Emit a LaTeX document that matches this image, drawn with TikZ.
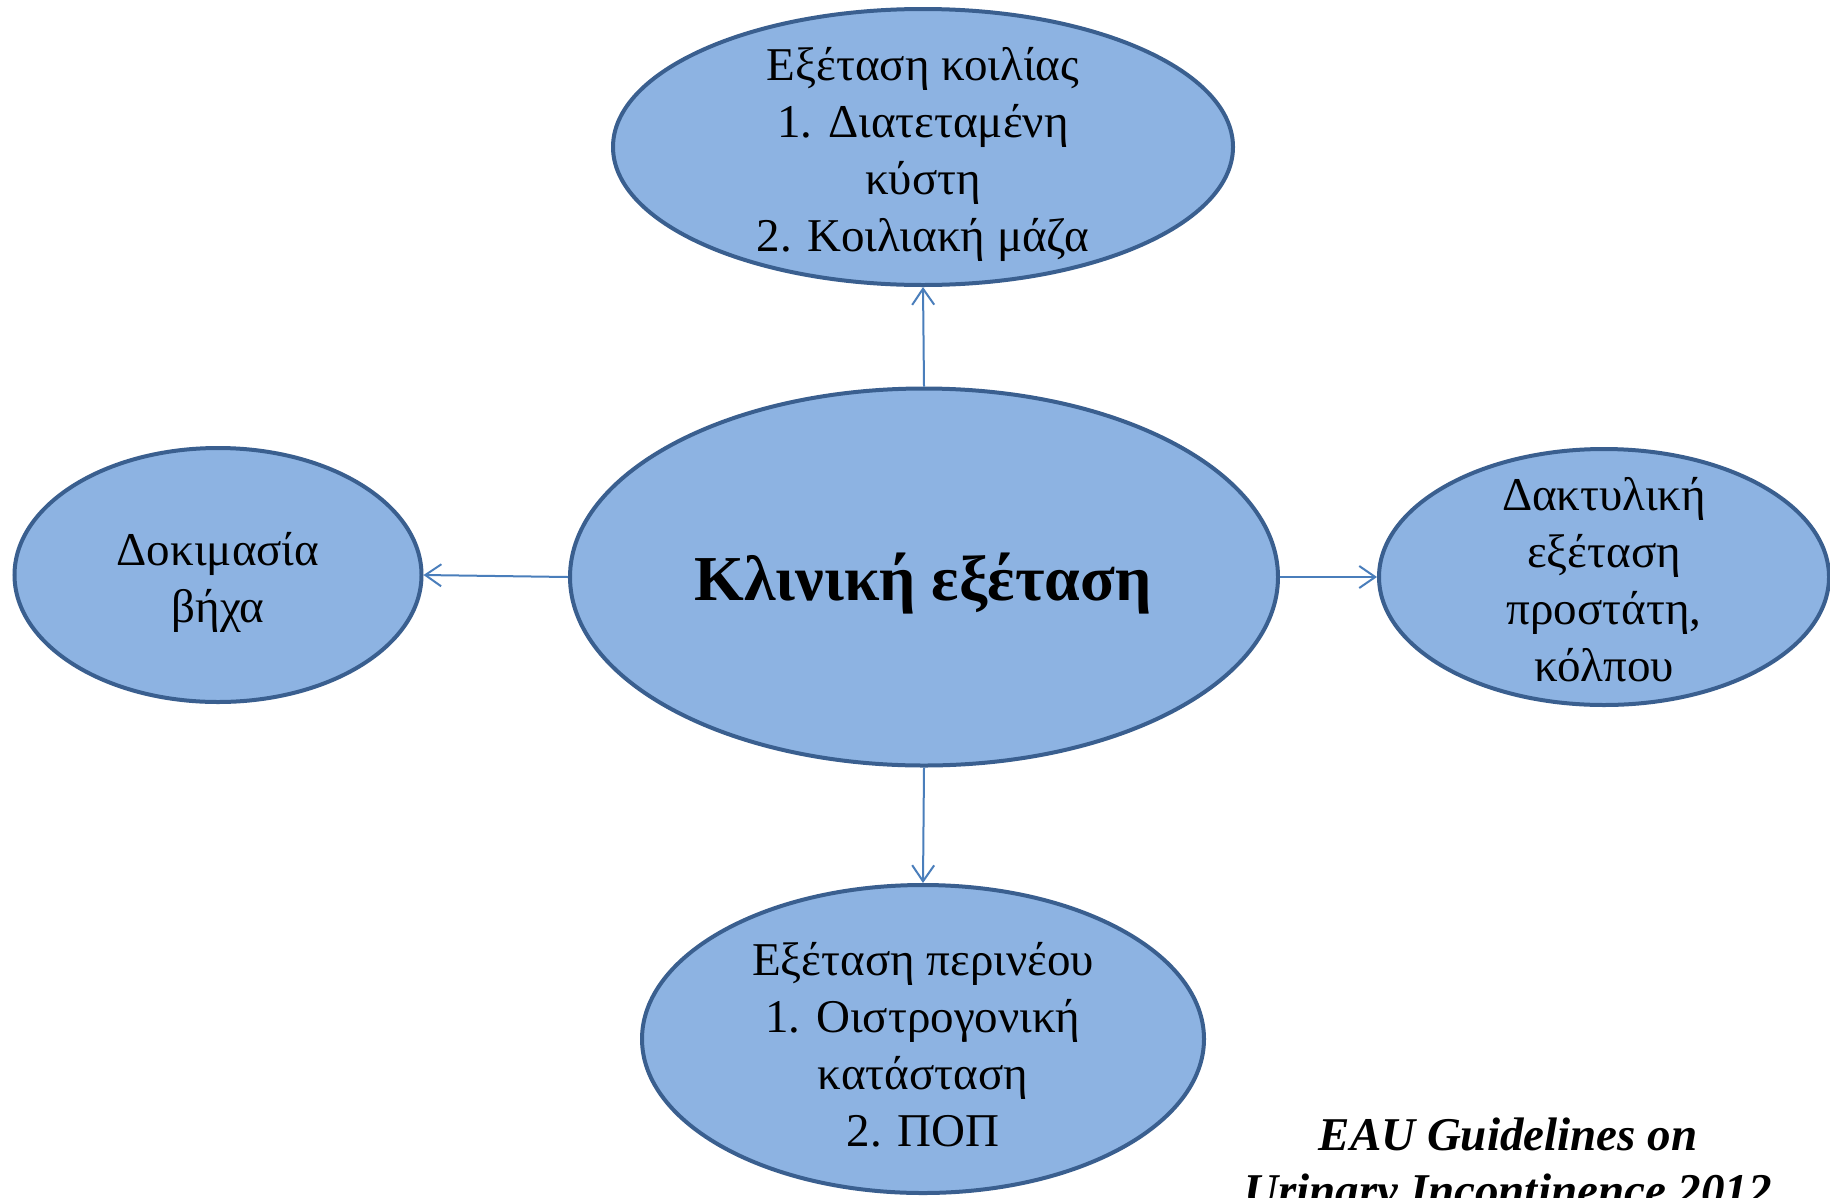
\documentclass[tikz,border=0pt]{standalone}
\usepackage{fontspec}
\setmainfont{Liberation Serif}
\usetikzlibrary{shapes.geometric,arrows.meta}
\definecolor{ellfill}{HTML}{8DB3E2}
\definecolor{elldraw}{HTML}{3A5F8F}
\definecolor{arrcol}{HTML}{4A7EBB}
\tikzset{
  oval/.style={ellipse, draw=elldraw, fill=ellfill, line width=4pt, inner sep=0pt},
  txt/.style={align=center, font=\fontsize{47}{57}\selectfont, inner sep=0pt},
  conn/.style={draw=arrcol, line width=2pt, -{Straight Barb[length=16pt,width=22pt,line width=2pt]}}
}
\begin{document}
\begin{tikzpicture}[x=1pt,y=-1pt]
\useasboundingbox (0,0) rectangle (1830,1197);
\fill[white] (0,0) rectangle (1830,1197);
\node[oval, minimum width=620pt, minimum height=276pt] (top) at (923,147) {};
\node[oval, minimum width=708pt, minimum height=377pt] (mid) at (924,577) {};
\node[oval, minimum width=407pt, minimum height=254pt] (left) at (218,575) {};
\node[oval, minimum width=450pt, minimum height=256pt] (right) at (1604,577) {};
\node[oval, minimum width=562pt, minimum height=308pt] (bot) at (923,1039) {};
\node[txt] (toptxt) at (923,154) {Εξέταση κοιλίας\\1. Διατεταμένη\\κύστη\\2. Κοιλιακή μάζα};
\node[txt, font=\fontsize{64}{70}\selectfont\bfseries] (midtxt) at (923,584) {Κλινική εξέταση};
\node[txt] (lefttxt) at (218,582) {Δοκιμασία\\βήχα};
\node[txt] (righttxt) at (1604,580) {Δακτυλική\\εξέταση\\προστάτη,\\κόλπου};
\node[txt] (bottxt) at (923,1045) {Εξέταση περινέου\\1. Οιστρογονική\\κατάσταση\\2. ΠΟΠ};
\node[txt, font=\fontsize{47}{56}\selectfont\bfseries\itshape] (src) at (1508,1167) {EAU Guidelines on\\Urinary Incontinence 2012};
\draw[conn] (mid.north) -- (top.south);
\draw[conn] (mid.west) -- (left.east);
\draw[conn] (mid.east) -- (right.west);
\draw[conn] (mid.south) -- (bot.north);
\end{tikzpicture}
\end{document}
